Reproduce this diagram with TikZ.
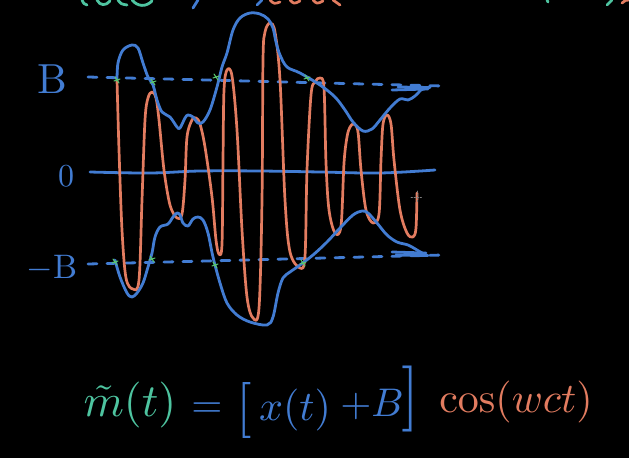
\documentclass[tikz,border=0pt]{standalone}
\begin{document}
\begin{tikzpicture}[x=1pt,y=-1pt,
  line cap=round, line join=round,
  blueink/.style={draw=inkblue, line width=2.8pt},
  orangeink/.style={draw=inkorange, line width=2.7pt},
  tealink/.style={draw=inkteal, line width=2.8pt},
  dashline/.style={draw=inkblue, line width=2.8pt, dash pattern=on 9pt off 10pt},
  bluelbl/.style={text=inkblue, inner sep=0pt},
  orangelbl/.style={text=inkorange, inner sep=0pt},
  teallbl/.style={text=inkteal, inner sep=0pt},
  ticks/.style={draw=inkgreen, line width=1pt}]
\definecolor{inkblue}{RGB}{66,124,210}
\definecolor{inkorange}{RGB}{226,124,96}
\definecolor{inkteal}{RGB}{78,196,160}
\definecolor{inkgreen}{RGB}{90,200,110}
\fill[black] (0,0) rectangle (629,458);
\useasboundingbox (0,0) rectangle (629,458);

% axis labels
\node[bluelbl, scale=4.2] (lblB) at (52,79) {B};
\node[bluelbl, scale=3.2] (lbl0) at (66,176) {0};
\node[bluelbl, scale=3.4] (lblmB) at (52,268) {$-$B};

% reference lines
\coordinate (tl) at (88,77); \coordinate (tr) at (443,86);
\coordinate (bl) at (88,264); \coordinate (br) at (443,255);
\draw[dashline] (tl) -- (tr);
\draw[dashline] (bl) -- (br);
\draw[blueink] plot[smooth, tension=0.6] coordinates {(90,172) (150,173) (200,171) (260,171) (320,172) (380,173) (435,170)};

% carrier (orange)
\draw[orangeink] plot[smooth, tension=0.55] coordinates {
(117,80) (119,150) (122,230) (126,278) (133,289) (139,280) (142,200) (145,120) (148,98) (152,92)
(156,98) (159,120) (164,170) (170,205) (177,218) (182,214) (185,180) (187,137) (192,120) (196,118)
(200,124) (205,147) (212,197) (216,240) (219,254) (222,244) (223,160) (224,90) (227,70)
(232,76) (237,130) (242,230) (247,297) (253,318) (259,308) (262,200) (263,60) (265,32) (270,23)
(275,32) (280,80) (285,200) (290,252) (300,268) (305,256) (307,170) (311,95) (315,82) (320,78)
(324,88) (326,163) (329,210) (335,233) (341,226) (344,163) (347,137) (350,127) (354,124)
(358,132) (361,170) (366,210) (373,223) (379,214) (381,160) (383,124) (387,115)
(391,124) (394,160) (400,210) (407,233) (413,237) (416,228) (417,193)};

% upper envelope (blue)
\draw[blueink] plot[smooth, tension=0.55] coordinates {
(117,80) (118,63) (123,50) (132,45) (138,48) (143,63) (148,77) (153,85) (157,100) (162,112)
(170,117) (177,127) (180,128) (185,118) (188,115) (193,117) (198,123) (203,122) (210,110)
(217,87) (222,67) (227,53) (233,30) (240,18) (250,13) (260,14) (268,19) (273,28) (276,42)
(280,55) (287,67) (300,73) (320,85) (335,97) (345,110) (353,122) (363,131) (372,129)
(380,120) (390,108) (400,99) (408,100) (415,96) (421,90) (425,88)};
\draw[blueink] (392,90) -- (428,89);
\draw[blueink] (398,87) -- (430,87.5);

% lower envelope (blue)
\draw[blueink] plot[smooth, tension=0.55] coordinates {
(115,260) (120,277) (127,293) (132,297) (137,293) (143,283) (148,267) (152,253) (155,237)
(160,227) (168,224) (173,217) (177,213) (180,215) (183,223) (188,226) (193,219) (198,217)
(203,220) (208,233) (213,257) (220,283) (227,303) (237,315) (250,322) (267,325) (273,317)
(278,293) (283,278) (290,272) (300,265) (313,255) (327,242) (340,228) (353,215) (362,211)
(368,213) (377,223) (387,235) (397,242) (408,245) (417,250) (422,253)};
\draw[blueink] (392,252) -- (426,253);
\draw[blueink] (396,255) -- (428,255.5);

% small green ticks at crossings
\foreach \p in {(117,80),(153,82),(216,77),(307,78),(115,262),(152,259),(215,265),(303,263)}
  \draw[ticks] \p ++(-2,-3) -- ++(4,6) \p ++(-3,1) -- ++(6,-2);

% cursor
\coordinate (cur) at (417,197);
\draw[gray, line width=0.8pt, dash pattern=on 1.5pt off 1.5pt] (cur) ++(-6,0) -- ++(12,0) (cur) ++(0,-6) -- ++(0,12);

% cut-off handwriting at the top edge
\draw[tealink] (82,0) .. controls (84,4) .. (87,5);
\draw[tealink] (97,0) .. controls (100,6) and (106,6) .. (110,1);
\draw[tealink] (118,0) .. controls (121,4) .. (127,5);
\draw[tealink] (132,0) .. controls (138,7) and (146,7) .. (152,1);
\draw[blueink] (193,8) .. controls (195,4) .. (198,0);
\draw[blueink] (257,5) .. controls (260,3) .. (262,0);
\draw[orangeink] (270,0) .. controls (274,4) .. (280,2);
\draw[orangeink] (290,0) .. controls (294,4) .. (300,1);
\draw[orangeink] (313,0) .. controls (317,4) .. (323,1);
\draw[orangeink] (333,0) .. controls (336,3) .. (340,5);
\draw[tealink] (547,0) -- (548,2);
\draw[tealink] (607,5) .. controls (610,3) .. (612,0);
\draw[orangeink] (622,3) .. controls (626,0) .. (629,0);

% formula
\node[teallbl, scale=4.6] (mt) at (130,405) {$\tilde{m}(t)$};
\node[bluelbl, scale=4] (eq) at (207,410) {$=$};
\node[bluelbl, scale=5.6] (lb) at (244,410) {$[$};
\node[bluelbl, scale=4.2] (xt) at (295,410) {$x(t)$};
\node[bluelbl, scale=4.0] (pB) at (372,404) {$+B$};
\node[bluelbl, scale=6.6] (rb) at (411,399) {$]$};
\node[orangelbl, scale=4.2] (cs) at (516,402) {$\cos(wct)$};
\end{tikzpicture}
\end{document}
